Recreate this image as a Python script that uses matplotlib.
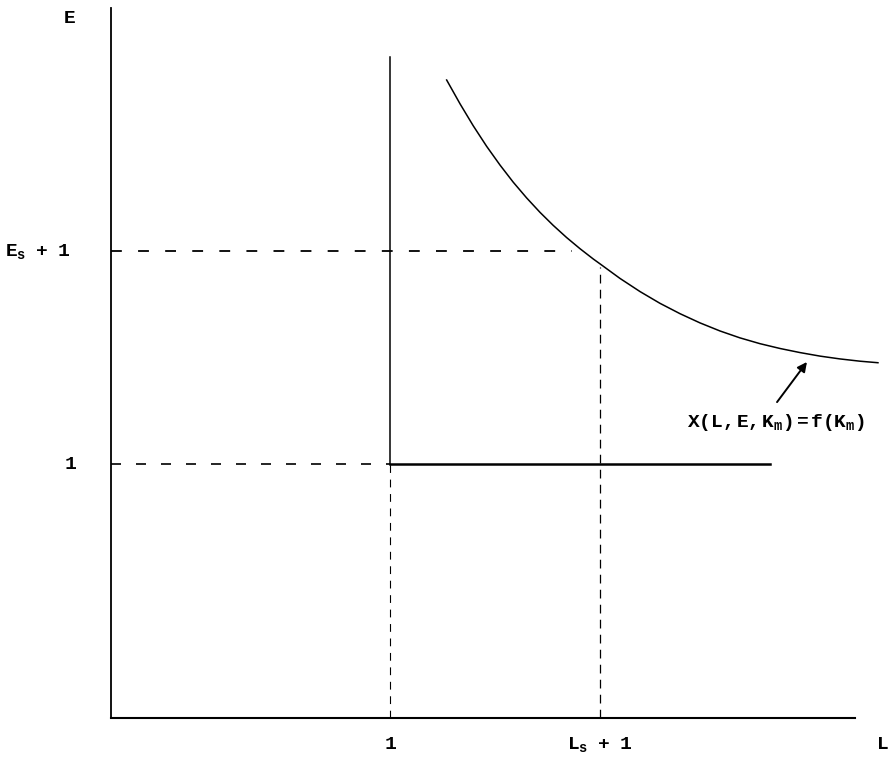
import matplotlib
matplotlib.use("Agg")
import matplotlib.pyplot as plt

plt.rcParams['mathtext.fontset'] = 'custom'
plt.rcParams['mathtext.rm'] = 'Liberation Mono:bold'
plt.rcParams['mathtext.it'] = 'Liberation Mono:bold'

# Key values (in units where the unit level is 1)
unit_level = 1.0
Es_plus_1 = 1.837
Ls_plus_1 = 1.75

# Iso-curve X(L,E,K_m)=f(K_m)
curve_L = [1.201, 1.249, 1.296, 1.344, 1.392, 1.439, 1.487, 1.535, 1.582,
           1.630, 1.678, 1.726, 1.750, 1.821, 1.893, 1.964, 2.036, 2.107,
           2.179, 2.250, 2.322, 2.394, 2.465, 2.537, 2.608, 2.680, 2.744]
curve_E = [2.512, 2.418, 2.332, 2.251, 2.177, 2.110, 2.048, 1.991, 1.940,
           1.892, 1.848, 1.807, 1.788, 1.731, 1.679, 1.633, 1.592, 1.556,
           1.524, 1.497, 1.474, 1.455, 1.439, 1.425, 1.414, 1.405, 1.399]

xtick_labels = ["1", r"$\mathrm{L_s\ \ +\ \ 1}$"]
ytick_labels = ["1", r"$\mathrm{E_s\ \ +\ \ 1}$"]
curve_label = r"$\mathrm{X(L,E,K_m)=f(K_m)}$"

fig = plt.figure(figsize=(8.88, 7.6), dpi=100)
ax = fig.add_axes([0, 0, 1, 1])
ax.set_xlim(-0.397, 2.780)
ax.set_ylim(-0.165, 2.827)
ax.axis('off')

k = 'black'
mono = 'Liberation Mono'
fs = 14

# axes
ax.plot([0, 0], [0, 2.795], color=k, lw=1.3)
ax.plot([0, 2.662], [0, 0], color=k, lw=1.5)

# vertical line at L = 1
ax.plot([unit_level, unit_level], [unit_level, 2.602], color=k, lw=1.1)
ax.plot([unit_level, unit_level], [0, unit_level], color=k, lw=0.8,
        dashes=(7, 6))

# horizontal line at E = 1
ax.plot([unit_level, 2.358], [unit_level, unit_level], color=k, lw=1.8)
ax.plot([0, unit_level], [unit_level, unit_level], color=k, lw=1.2,
        dashes=(6, 9))

# E_s + 1 dashed
ax.plot([0, 1.649], [Es_plus_1, Es_plus_1], color=k, lw=1.3, dashes=(6, 9))
# L_s + 1 dashed
ax.plot([Ls_plus_1, Ls_plus_1], [0, 1.776], color=k, lw=0.9, dashes=(7, 5))

# curve
ax.plot(curve_L, curve_E, color=k, lw=1.1)

# arrow + label
ax.annotate("", xy=(2.490, 1.402), xytext=(2.383, 1.244),
            arrowprops=dict(arrowstyle='-|>', color=k, lw=1.4,
                            mutation_scale=14, shrinkA=0, shrinkB=0))
ax.text(2.062, 1.163, curve_label, fontsize=fs, ha='left', va='center',
        color=k)

# tick labels
ax.text(unit_level, -0.105, xtick_labels[0], fontsize=fs, ha='center',
        va='center', family=mono, weight='bold')
ax.text(Ls_plus_1, -0.105, xtick_labels[1], fontsize=fs, ha='center',
        va='center')
ax.text(-0.145, unit_level, ytick_labels[0], fontsize=fs, ha='center',
        va='center', family=mono, weight='bold')
ax.text(-0.262, Es_plus_1, ytick_labels[1], fontsize=fs, ha='center',
        va='center')

# axis names
ax.text(2.763, -0.105, "L", fontsize=fs, ha='center', va='center',
        family=mono, weight='bold')
ax.text(-0.147, 2.756, "E", fontsize=fs, ha='center', va='center',
        family=mono, weight='bold')

fig.savefig("out.png", dpi=100)
